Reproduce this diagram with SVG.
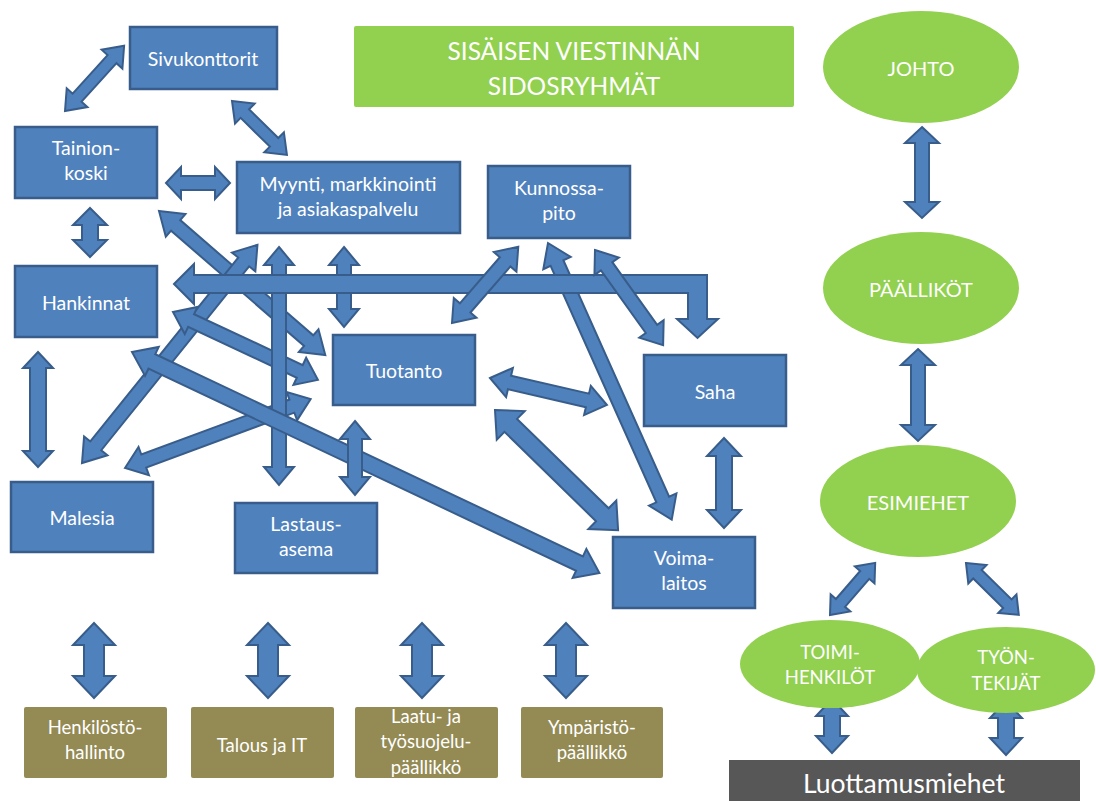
<svg xmlns="http://www.w3.org/2000/svg" width="1096" height="801" viewBox="0 0 1096 801">
<style>
.bx{fill:#4F81BD;stroke:#385D8A;stroke-width:2.5}
.gr{fill:#92D050}
.ol{fill:#948A54}
.ar{fill:#4F81BD;stroke:#385D8A;stroke-width:2;stroke-linejoin:miter}
text{font-family:Lato,"Open Sans","Liberation Sans",sans-serif;fill:#fff;text-anchor:middle;dominant-baseline:central}
.t{font-size:19.5px}
.b{font-size:18.5px}
.e{font-size:20px}
</style>
<rect width="1096" height="801" fill="#fff"/>
<g id="connectors">
<path class="ar" transform="translate(65,111) rotate(-47.8)" d="M0,0 L18,-14 L18,-6 L70,-6 L70,-14 L88,0 L70,14 L70,6 L18,6 L18,14Z"/>
<path class="ar" transform="translate(232,101) rotate(44.5)" d="M0,0 L18,-14 L18,-6 L59,-6 L59,-14 L77,0 L59,14 L59,6 L18,6 L18,14Z"/>
<path class="ar" transform="translate(166,183)" d="M0,0 L15,-16 L15,-7 L49,-7 L49,-16 L64,0 L49,16 L49,7 L15,7 L15,16Z"/>
<path class="ar" transform="translate(90,208) rotate(90)" d="M0,0 L17,-17 L17,-8 L32,-8 L32,-17 L49,0 L32,17 L32,8 L17,8 L17,17Z"/>
<path class="ar" transform="translate(159,211) rotate(40.9)" d="M0,0 L22,-15 L22,-7 L198,-7 L198,-15 L220,0 L198,15 L198,7 L22,7 L22,15Z"/>
<path class="ar" transform="translate(38,352) rotate(90)" d="M0,0 L16,-15 L16,-8 L99,-8 L99,-15 L115,0 L99,15 L99,8 L16,8 L16,15Z"/>
<path class="ar" transform="translate(82,463) rotate(-51.2)" d="M0,0 L22,-15 L22,-7 L258,-7 L258,-15 L280,0 L258,15 L258,7 L22,7 L22,15Z"/>
<path class="ar" transform="translate(125,468) rotate(-20.35)" d="M0,0 L20,-15 L20,-7 L178,-7 L178,-15 L198,0 L178,15 L178,7 L20,7 L20,15Z"/>
<path class="ar" transform="translate(173,312) rotate(25.1)" d="M0,0 L20,-15 L20,-7 L140,-7 L140,-15 L160,0 L140,15 L140,7 L20,7 L20,15Z"/>
<path class="ar" transform="translate(279,247) rotate(90)" d="M0,0 L18,-15 L18,-7 L220,-7 L220,-15 L238,0 L220,15 L220,7 L18,7 L18,15Z"/>
<path class="ar" transform="translate(132,352) rotate(25.3)" d="M0,0 L22,-16 L22,-8 L495,-8 L495,-16 L517,0 L495,16 L495,8 L22,8 L22,16Z"/>
<path class="ar" transform="translate(344,247) rotate(90)" d="M0,0 L18,-15 L18,-7 L62,-7 L62,-15 L80,0 L62,15 L62,7 L18,7 L18,15Z"/>
<path class="ar" transform="translate(355,421) rotate(90)" d="M0,0 L18,-15 L18,-7 L56,-7 L56,-15 L74,0 L56,15 L56,7 L18,7 L18,15Z"/>
<path class="ar" transform="translate(548,243) rotate(65.9)" d="M0,0 L22,-15 L22,-7 L281,-7 L281,-15 L303,0 L281,15 L281,7 L22,7 L22,15Z"/>
<path class="ar" d="M174,284 L194,264 L194,275 L707,275 L707,319 L718,319 L697.5,338 L677,319 L688,319 L688,293 L194,293 L194,304 Z"/>
<path class="ar" transform="translate(452,323) rotate(-49)" d="M0,0 L20,-15 L20,-7 L81,-7 L81,-15 L101,0 L81,15 L81,7 L20,7 L20,15Z"/>
<path class="ar" transform="translate(595,250) rotate(54.4)" d="M0,0 L20,-15 L20,-7 L97,-7 L97,-15 L117,0 L97,15 L97,7 L20,7 L20,15Z"/>
<path class="ar" transform="translate(490,378) rotate(13)" d="M0,0 L20,-15 L20,-7 L100,-7 L100,-15 L120,0 L100,15 L100,7 L20,7 L20,15Z"/>
<path class="ar" transform="translate(495,410) rotate(44.3)" d="M0,0 L22,-20 L22,-9 L150,-9 L150,-20 L172,0 L150,20 L150,9 L22,9 L22,20Z"/>
<path class="ar" transform="translate(724,438) rotate(90)" d="M0,0 L18,-17 L18,-8 L72,-8 L72,-17 L90,0 L72,17 L72,8 L18,8 L18,17Z"/>
<path class="ar" transform="translate(922,127) rotate(90)" d="M0,0 L16,-17 L16,-7 L75,-7 L75,-17 L91,0 L75,17 L75,7 L16,7 L16,17Z"/>
<path class="ar" transform="translate(918,349) rotate(90)" d="M0,0 L16,-17 L16,-7 L76,-7 L76,-17 L92,0 L76,17 L76,7 L16,7 L16,17Z"/>
<path class="ar" transform="translate(830,615) rotate(-49.1)" d="M0,0 L16,-13 L16,-6 L53,-6 L53,-13 L69,0 L53,13 L53,6 L16,6 L16,13Z"/>
<path class="ar" transform="translate(966,563) rotate(44.5)" d="M0,0 L16,-13 L16,-6 L58,-6 L58,-13 L74,0 L58,13 L58,6 L16,6 L16,13Z"/>
<path class="ar" transform="translate(832,699) rotate(90)" d="M0,0 L17,-16 L17,-8 L37,-8 L37,-16 L54,0 L37,16 L37,8 L17,8 L17,16Z"/>
<path class="ar" transform="translate(1006,701) rotate(90)" d="M0,0 L17,-16 L17,-8 L37,-8 L37,-16 L54,0 L37,16 L37,8 L17,8 L17,16Z"/>
<path class="ar" transform="translate(94,623) rotate(90)" d="M0,0 L22,-21 L22,-10 L53,-10 L53,-21 L75,0 L53,21 L53,10 L22,10 L22,21Z"/>
<path class="ar" transform="translate(268,623) rotate(90)" d="M0,0 L22,-21 L22,-10 L53,-10 L53,-21 L75,0 L53,21 L53,10 L22,10 L22,21Z"/>
<path class="ar" transform="translate(422,623) rotate(90)" d="M0,0 L22,-21 L22,-10 L53,-10 L53,-21 L75,0 L53,21 L53,10 L22,10 L22,21Z"/>
<path class="ar" transform="translate(566,623) rotate(90)" d="M0,0 L22,-21 L22,-10 L53,-10 L53,-21 L75,0 L53,21 L53,10 L22,10 L22,21Z"/>
</g>
<g id="title"><rect class="gr" x="354" y="26" width="440" height="81" rx="2"/><text x="574" y="50" style="font-size:24.5px">SISÄISEN VIESTINNÄN</text><text x="574" y="85" style="font-size:24.5px">SIDOSRYHMÄT</text></g>
<g id="sivukonttorit"><rect class="bx" x="130" y="27" width="147" height="62"/><text class="t" x="203" y="58">Sivukonttorit</text></g>
<g id="tainionkoski"><rect class="bx" x="15" y="127" width="142" height="71"/><text class="t" x="86" y="147">Tainion-</text><text class="t" x="86" y="172">koski</text></g>
<g id="myynti"><rect class="bx" x="237" y="162" width="223" height="71"/><text class="t" x="348" y="183">Myynti, markkinointi</text><text class="t" x="348" y="208">ja asiakaspalvelu</text></g>
<g id="kunnossapito"><rect class="bx" x="488" y="166" width="142" height="72"/><text class="t" x="559" y="187">Kunnossa-</text><text class="t" x="559" y="212">pito</text></g>
<g id="hankinnat"><rect class="bx" x="15" y="266" width="142" height="71"/><text class="t" x="86" y="302">Hankinnat</text></g>
<g id="tuotanto"><rect class="bx" x="333" y="335" width="142" height="70"/><text class="t" x="404" y="370">Tuotanto</text></g>
<g id="saha"><rect class="bx" x="644" y="355" width="142" height="71"/><text class="t" x="715" y="391">Saha</text></g>
<g id="malesia"><rect class="bx" x="11" y="482" width="142" height="70"/><text class="t" x="82" y="517">Malesia</text></g>
<g id="lastausasema"><rect class="bx" x="235" y="503" width="142" height="70"/><text class="t" x="306" y="523">Lastaus-</text><text class="t" x="306" y="548">asema</text></g>
<g id="voimalaitos"><rect class="bx" x="613" y="537" width="142" height="71"/><text class="t" x="684" y="557">Voima-</text><text class="t" x="684" y="582">laitos</text></g>
<g id="henkilosto"><rect class="ol" x="24" y="707" width="143" height="71" rx="2"/><text class="b" x="95" y="727">Henkilöstö-</text><text class="b" x="95" y="752">hallinto</text></g>
<g id="talous"><rect class="ol" x="191" y="707" width="143" height="71" rx="2"/><text class="b" x="262" y="745">Talous ja IT</text></g>
<g id="laatu"><rect class="ol" x="355" y="707" width="143" height="71" rx="2"/><text class="b" x="426" y="716">Laatu- ja</text><text class="b" x="426" y="741">työsuojelu-</text><text class="b" x="426" y="767">päällikkö</text></g>
<g id="ymparisto"><rect class="ol" x="521" y="707" width="142" height="71" rx="2"/><text class="b" x="592" y="727">Ympäristö-</text><text class="b" x="592" y="752">päällikkö</text></g>
<g id="johto"><ellipse class="gr" cx="921" cy="67" rx="98" ry="56"/><text class="e" x="921" y="68">JOHTO</text></g>
<g id="paallikot"><ellipse class="gr" cx="921" cy="288" rx="98" ry="56"/><text class="e" x="921" y="289">PÄÄLLIKÖT</text></g>
<g id="esimiehet"><ellipse class="gr" cx="918" cy="501" rx="98" ry="56"/><text class="e" x="918" y="502">ESIMIEHET</text></g>
<g id="toimihenkilot"><ellipse class="gr" cx="830" cy="664" rx="90" ry="44"/><text class="b" x="830" y="652">TOIMI-</text><text class="b" x="830" y="677">HENKILÖT</text></g>
<g id="tyontekijat"><ellipse class="gr" cx="1006" cy="670" rx="89" ry="43"/><text class="b" x="1006" y="657">TYÖN-</text><text class="b" x="1006" y="683">TEKIJÄT</text></g>
<g id="luottamusmiehet"><rect x="729" y="760" width="351" height="45" fill="#575757"/><text x="904" y="783" style="font-size:26.5px">Luottamusmiehet</text></g>
</svg>
